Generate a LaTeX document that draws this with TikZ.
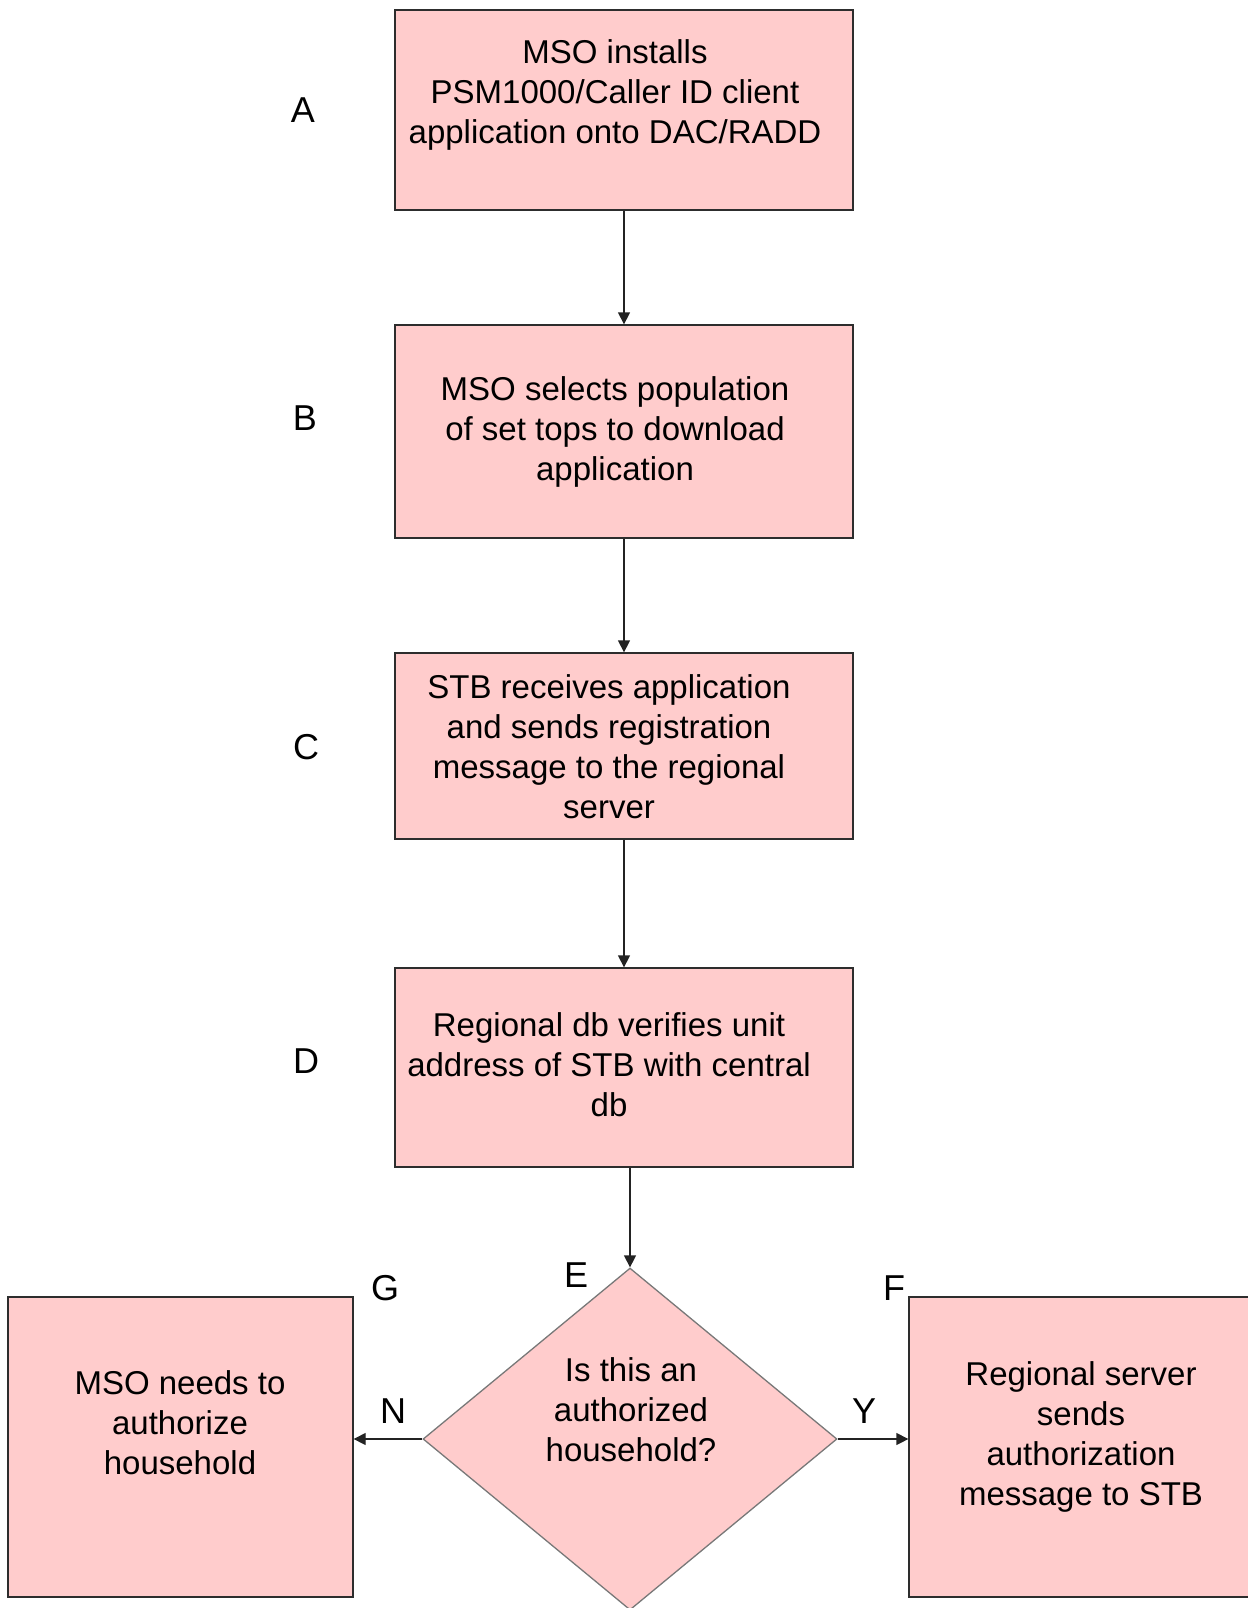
\documentclass[tikz,border=0pt]{standalone}
\usepackage{fontspec}
\setmainfont{Liberation Sans}
\usetikzlibrary{arrows.meta,shapes.geometric}
\definecolor{boxfill}{RGB}{255,204,204}
\definecolor{boxline}{RGB}{45,45,45}
\definecolor{diamline}{RGB}{120,120,120}
\definecolor{arrline}{RGB}{35,35,35}
\begin{document}
\begin{tikzpicture}[x=1pt,y=-1pt,
  box/.style={draw=boxline, fill=boxfill, line width=1.3pt, inner sep=0pt, rectangle},
  dec/.style={draw=diamline, fill=boxfill, line width=1.3pt, inner sep=0pt, diamond},
  txt/.style={align=center, font=\fontsize{33}{40}\selectfont, inner sep=0pt},
  lab/.style={font=\fontsize{36}{40}\selectfont, inner sep=0pt},
  arr/.style={-{Triangle[length=12pt,width=12pt]}, line width=1.3pt, draw=arrline}]
\useasboundingbox (0,0) rectangle (1247,1608);
% boxes
\node[box, minimum width=458pt, minimum height=200pt] (A) at (624,110) {};
\node[box, minimum width=458pt, minimum height=213pt] (B) at (624,431.5) {};
\node[box, minimum width=458pt, minimum height=186pt] (C) at (624,746) {};
\node[box, minimum width=458pt, minimum height=199pt] (D) at (624,1067.5) {};
\node[dec, minimum width=414pt, minimum height=342pt] (E) at (630,1439) {};
\node[box, minimum width=345pt, minimum height=300pt] (G) at (180.5,1447) {};
\node[box, minimum width=353pt, minimum height=300pt] (F) at (1085.5,1447) {};
% texts
\node[txt] (tA) at (615,95) {MSO installs\\PSM1000/Caller ID client\\application onto DAC/RADD};
\node[txt] (tB) at (615,432) {MSO selects population\\of set tops to download\\application};
\node[txt] (tC) at (609,747) {STB receives application\\and sends registration\\message to the regional\\server};
\node[txt] (tD) at (609,1065) {Regional db verifies unit\\address of STB with central\\db};
\node[txt] (tE) at (631,1410) {Is this an\\authorized\\household?};
\node[txt] (tG) at (180,1423) {MSO needs to\\authorize\\household};
\node[txt] (tF) at (1081,1437) {Regional server\\sends\\authorization\\message to STB};
% letters
\node[lab] (lA) at (303,110) {A};
\node[lab] (lB) at (305,418) {B};
\node[lab] (lC) at (306,747) {C};
\node[lab] (lD) at (306,1061) {D};
\node[lab] (lE) at (576,1275) {E};
\node[lab] (lG) at (385,1288) {G};
\node[lab] (lF) at (894,1288) {F};
\node[lab] (lN) at (393,1411) {N};
\node[lab] (lY) at (864,1411) {Y};
% connectors
\draw[arr] (A.south) -- (B.north);
\draw[arr] (B.south) -- (C.north);
\draw[arr] (C.south) -- (D.north);
\draw[arr] (D.south -| E.north) -- (E.north);
\draw[arr] (E.west) -- (E.west -| G.east);
\draw[arr] (E.east) -- (E.east -| F.west);
\end{tikzpicture}
\end{document}
